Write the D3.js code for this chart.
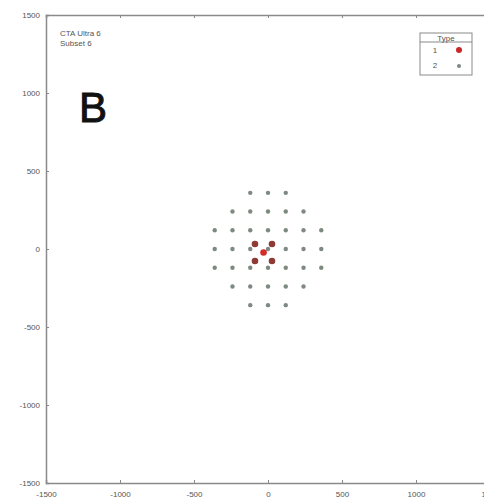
<!DOCTYPE html>
<html>
<head>
<meta charset="utf-8">
<script src="https://cdn.jsdelivr.net/npm/d3@7"></script>
<style>
  html, body { margin: 0; padding: 0; background: #fff; }
  svg { display: block; font-family: "Liberation Sans", Arial, sans-serif; }
</style>
</head>
<body>
<svg id="chart" width="484" height="501"></svg>
<script>
// Telescope positions (metres) for the two telescope types
const type2X = [-120, 0, 120,
                -240, -120, 0, 120, 240,
                -360, -240, -120, 0, 120, 240, 360,
                -360, -240, -120, 0, 120, 240, 360,
                -360, -240, -120, 0, 120, 240, 360,
                -240, -120, 0, 120, 240,
                -120, 0, 120];
const type2Y = [360, 360, 360,
                240, 240, 240, 240, 240,
                120, 120, 120, 120, 120, 120, 120,
                0, 0, 0, 0, 0, 0, 0,
                -120, -120, -120, -120, -120, -120, -120,
                -240, -240, -240, -240, -240,
                -360, -360, -360];
const type1X = [-88, 27, -30, -88, 27];
const type1Y = [32, 32, -22, -77, -77];

const tickValues = [-1500, -1000, -500, 0, 500, 1000, 1500];
const legendTypes = ["1", "2"];
const titleLines = ["CTA Ultra 6", "Subset 6"];
const panelLabel = "B";

const svg = d3.select("#chart");
const x = d3.scaleLinear().domain([-1500, 1500]).range([46, 490]);
const y = d3.scaleLinear().domain([-1500, 1500]).range([483, 15]);

const axisColor = "#8a8a8a";
const labelColor = "#555";
const fmt = d => String(d); // plain hyphen-minus labels

// Axes: ticks drawn inward, labels outside
const gx = svg.append("g").attr("transform", `translate(0,${y(-1500)})`)
  .call(d3.axisBottom(x).tickValues(tickValues).tickSize(-3).tickPadding(8).tickFormat(fmt));
const gxt = svg.append("g").attr("transform", `translate(0,${y(1500)})`)
  .call(d3.axisTop(x).tickValues(tickValues).tickSize(-3).tickFormat(""));
const gy = svg.append("g").attr("transform", `translate(${x(-1500)},0)`)
  .call(d3.axisLeft(y).tickValues(tickValues).tickSize(-3).tickPadding(6).tickFormat(fmt));

[gx, gxt, gy].forEach(g => {
  g.select(".domain").attr("stroke", axisColor).attr("stroke-width", 1.5);
  g.selectAll(".tick line").attr("stroke", axisColor);
  g.selectAll(".tick text").attr("fill", labelColor).attr("font-size", 8)
    .attr("font-family", "Liberation Sans, Arial, sans-serif");
});

// Title text
svg.append("g").selectAll("text").data(titleLines).join("text")
  .attr("x", 60).attr("y", (d, i) => 36 + i * 10)
  .attr("font-size", 8).attr("fill", "#555").text(d => d);

svg.append("text").attr("x", 79).attr("y", 122)
  .attr("font-size", 42).attr("fill", "#111")
  .attr("stroke", "#111").attr("stroke-width", 1).text(panelLabel);

// Type 2 telescopes
const t2 = type2X.map((v, i) => ({x: v, y: type2Y[i]}));
svg.append("g").selectAll("circle").data(t2).join("circle")
  .attr("cx", d => x(d.x)).attr("cy", d => y(d.y)).attr("r", 2.2)
  .attr("fill", "#7e8a80");

// Type 1 telescopes
const t1 = type1X.map((v, i) => ({x: v, y: type1Y[i]}));
svg.append("g").selectAll("circle").data(t1).join("circle")
  .attr("cx", d => x(d.x)).attr("cy", d => y(d.y)).attr("r", 3.3)
  .attr("fill", (d, i) => i === 2 ? "#d42a2a" : "#8e3a36");

// Legend
const lg = svg.append("g");
lg.append("rect").attr("x", 420).attr("y", 33).attr("width", 52).attr("height", 42)
  .attr("fill", "#fff").attr("stroke", axisColor).attr("stroke-width", 1);
lg.append("line").attr("x1", 420).attr("x2", 472).attr("y1", 42).attr("y2", 42)
  .attr("stroke", axisColor);
lg.append("text").attr("x", 446).attr("y", 40.5).attr("text-anchor", "middle")
  .attr("font-size", 8).attr("fill", "#555").text("Type");
lg.selectAll(".lab").data(legendTypes).join("text").attr("class", "lab")
  .attr("x", 435).attr("y", (d, i) => 53 + i * 15).attr("text-anchor", "middle")
  .attr("font-size", 8).attr("fill", "#555").text(d => d);
lg.selectAll(".sym").data(legendTypes).join("circle").attr("class", "sym")
  .attr("cx", 459).attr("cy", (d, i) => 50 + i * 16)
  .attr("r", (d, i) => i === 0 ? 3 : 2)
  .attr("fill", (d, i) => i === 0 ? "#c82828" : "#7e8a80");
</script>
</body>
</html>
